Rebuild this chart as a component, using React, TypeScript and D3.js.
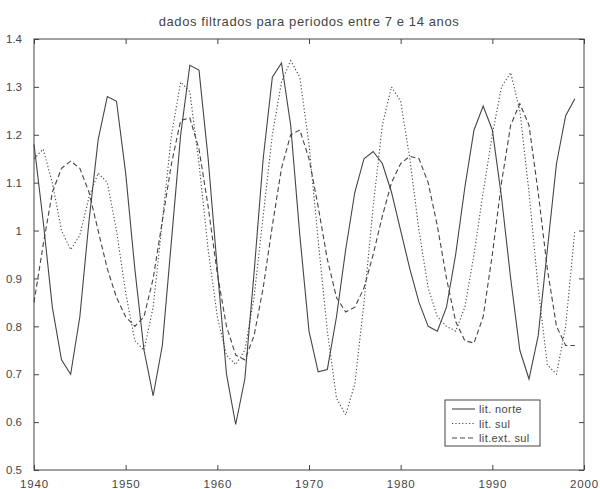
import { useEffect, useRef } from 'react';
import * as d3 from 'd3';

const width = 600;
const height = 489;
const [mt, mr, mb, ml] = [39, 16, 19, 34];

const years = d3.range(1940, 2000);

// lit. norte (solid)
const norte = [
    1.18, 1.02, 0.84, 0.73, 0.70, 0.82, 1.02, 1.19, 1.28, 1.27,
    1.12, 0.92, 0.75, 0.655, 0.76, 0.98, 1.2, 1.345, 1.335, 1.15,
    0.92, 0.7, 0.595, 0.69, 0.91, 1.15, 1.32, 1.35, 1.22, 0.99,
    0.79, 0.705, 0.71, 0.82, 0.96, 1.08, 1.15, 1.165, 1.14, 1.08,
    1.0, 0.92, 0.85, 0.8, 0.79, 0.84, 0.95, 1.09, 1.21, 1.26,
    1.21, 1.07, 0.9, 0.75, 0.69, 0.78, 0.96, 1.14, 1.24, 1.275
];

// lit. sul (dotted)
const sul = [
    1.15, 1.17, 1.1, 1.0, 0.96, 0.99, 1.07, 1.12, 1.1, 1.0,
    0.87, 0.77, 0.75, 0.84, 1.02, 1.2, 1.31, 1.29, 1.14, 0.96,
    0.82, 0.74, 0.72, 0.75, 0.86, 1.03, 1.2, 1.31, 1.355, 1.32,
    1.18, 0.98, 0.79, 0.65, 0.615, 0.68, 0.85, 1.05, 1.22, 1.3,
    1.27, 1.15, 1.0, 0.88, 0.82, 0.8, 0.79, 0.84, 0.95, 1.08,
    1.2, 1.3, 1.33, 1.25, 1.08, 0.88, 0.72, 0.7, 0.8, 1.0
];

// lit.ext. sul (dashed)
const extSul = [
    0.85, 0.97, 1.08, 1.13, 1.145, 1.13, 1.08, 1.0, 0.92, 0.86,
    0.82, 0.8, 0.82, 0.9, 1.02, 1.14, 1.23, 1.235, 1.17, 1.05,
    0.91, 0.8, 0.74, 0.73, 0.78, 0.88, 1.01, 1.13, 1.2, 1.21,
    1.15, 1.05, 0.94, 0.86, 0.83, 0.84, 0.88, 0.95, 1.03, 1.1,
    1.14, 1.155, 1.15, 1.1, 1.01, 0.9, 0.81, 0.77, 0.765, 0.82,
    0.95, 1.1, 1.22, 1.265, 1.22, 1.08, 0.92, 0.8, 0.76, 0.76
];

const seriesNames = ['lit. norte', 'lit. sul', 'lit.ext. sul'];
const xTicks = [1940, 1950, 1960, 1970, 1980, 1990, 2000];
const yTicks = [0.5, 0.6, 0.7, 0.8, 0.9, 1, 1.1, 1.2, 1.3, 1.4];

const ink = '#454545';
const dashes = [null, '1.2,2.2', '5,3'];

function App() {
    const ref = useRef(null);

    useEffect(() => {
        const svg = d3.select(ref.current);
        svg.selectAll('*').remove();

        const x = d3.scaleLinear().domain([1940, 2000]).range([ml, width - mr]);
        const y = d3.scaleLinear().domain([0.5, 1.4]).range([height - mb, mt]);

        svg.append('rect').attr('width', width).attr('height', height).attr('fill', '#fff');

        // title
        svg.append('text')
            .attr('x', (ml + width - mr) / 2)
            .attr('y', 26)
            .attr('text-anchor', 'middle')
            .attr('font-size', 13)
            .attr('letter-spacing', 0.6)
            .attr('fill', ink)
            .text('dados filtrados para periodos entre 7 e 14 anos');

        const style = (g) => {
            g.select('.domain').remove();
            g.selectAll('.tick line').attr('stroke', ink);
            g.selectAll('.tick text').attr('fill', ink).attr('font-size', 11.5).attr('font-family', 'Liberation Sans, Arial, sans-serif');
        };

        // ticks on all four sides, pointing inward
        svg.append('g')
            .attr('transform', `translate(0,${height - mb})`)
            .call(d3.axisBottom(x).tickValues(xTicks).tickFormat(d3.format('d')).tickSizeInner(-5).tickSizeOuter(0).tickPadding(10))
            .call(style)
            .call((g) => g.selectAll('.tick text').attr('letter-spacing', 0.8));
        svg.append('g')
            .attr('transform', `translate(0,${mt})`)
            .call(d3.axisTop(x).tickValues(xTicks).tickFormat('').tickSizeInner(-5).tickSizeOuter(0))
            .call(style);
        svg.append('g')
            .attr('transform', `translate(${ml},0)`)
            .call(d3.axisLeft(y).tickValues(yTicks).tickFormat((d) => String(d)).tickSizeInner(-5).tickSizeOuter(0).tickPadding(12))
            .call(style);
        svg.append('g')
            .attr('transform', `translate(${width - mr},0)`)
            .call(d3.axisRight(y).tickValues(yTicks).tickFormat('').tickSizeInner(-5).tickSizeOuter(0))
            .call(style);

        // frame
        svg.append('rect')
            .attr('x', ml)
            .attr('y', mt)
            .attr('width', width - ml - mr)
            .attr('height', height - mt - mb)
            .attr('fill', 'none')
            .attr('stroke', ink)
            .attr('stroke-width', 1);

        const line = d3
            .line()
            .x((d, i) => x(years[i]))
            .y((d) => y(d));

        [norte, sul, extSul].forEach((s, k) => {
            svg.append('path')
                .attr('d', line(s))
                .attr('fill', 'none')
                .attr('stroke', ink)
                .attr('stroke-width', 1.1)
                .attr('stroke-dasharray', dashes[k]);
        });

        // legend
        const lg = svg.append('g').attr('transform', 'translate(445,400)');
        lg.append('rect')
            .attr('width', 95)
            .attr('height', 46)
            .attr('fill', '#fff')
            .attr('stroke', ink);
        seriesNames.forEach((name, k) => {
            const yy = 9 + k * 14.5;
            lg.append('line')
                .attr('x1', 7)
                .attr('x2', 30)
                .attr('y1', yy)
                .attr('y2', yy)
                .attr('stroke', ink)
                .attr('stroke-width', 1.1)
                .attr('stroke-dasharray', dashes[k]);
            lg.append('text')
                .attr('x', 34)
                .attr('y', yy + 4)
                .attr('font-size', 11)
                .attr('letter-spacing', 0.4)
                .attr('font-family', 'Liberation Sans, Arial, sans-serif')
                .attr('fill', ink)
                .text(name);
        });
    }, []);

    return (
        <svg
            ref={ref}
            width={width}
            height={height}
            style={{ position: 'absolute', left: 0, top: 0, fontFamily: 'Liberation Sans, Arial, sans-serif' }}
        />
    );
}

export default App;
